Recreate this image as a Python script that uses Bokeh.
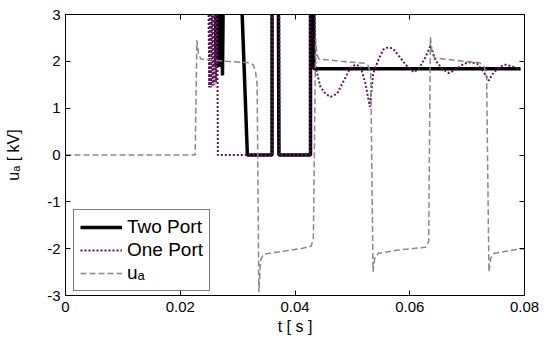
from bokeh.plotting import figure
from bokeh.models import Range1d, FixedTicker, LinearAxis, Legend, LegendItem
from bokeh.embed import file_html
from bokeh.resources import INLINE

# ---- data ----
t_ua = [0.0, 0.0226, 0.0229, 0.0232, 0.0236, 0.0280, 0.0320, 0.0327, 0.0331, 0.0334,
        0.0337, 0.0340, 0.0345, 0.0370, 0.0410, 0.0428, 0.0432, 0.0436, 0.0438, 0.0442,
        0.0480, 0.0520, 0.0527, 0.0532, 0.0536, 0.0539, 0.0545, 0.0580, 0.0628, 0.0633,
        0.0636, 0.0639, 0.0644, 0.0680, 0.0722, 0.0730, 0.0734, 0.0738, 0.0741, 0.0747,
        0.0780, 0.0800]
v_ua = [0.0, 0.0, 2.45, 2.15, 2.05, 2.00, 1.97, 1.93, 1.80, 1.50,
        -2.93, -2.25, -2.12, -2.07, -2.00, -1.95, -1.80, 2.48, 2.15, 2.05,
        2.00, 1.96, 1.92, 1.75, -2.49, -2.20, -2.10, -2.03, -1.97, -1.85,
        2.52, 2.15, 2.07, 2.02, 1.97, 1.88, 1.65, -2.49, -2.20, -2.10,
        -2.03, -2.00]

t_two = [0.02610, 0.02624, 0.02638, 0.02652, 0.02666, 0.02680, 0.02694, 0.02708,
         0.02722, 0.02736, 0.02750, 0.02760, 0.03070, 0.03170, 0.03600, 0.03600,
         0.03710, 0.03720, 0.04270, 0.04270, 0.04325, 0.04330, 0.07930]
v_two = [3.5, 1.88, 3.5, 1.88, 3.5, 1.88, 3.5, 1.88,
         3.5, 1.70, 3.5, 3.5, 3.3, 0.0, 0.0, 3.5,
         3.5, 0.0, 0.0, 3.5, 3.5, 1.84, 1.84]

t_one = [0.02490, 0.02505, 0.02520, 0.02535, 0.02550, 0.02565, 0.02580, 0.02595,
         0.02610, 0.02625, 0.02640, 0.02650, 0.02655, 0.03600, 0.03600, 0.03725,
         0.03730, 0.04262, 0.04262, 0.04340, 0.04357, 0.04444, 0.04531, 0.04619,
         0.04735, 0.04851, 0.04967, 0.05055, 0.05142, 0.05229, 0.05305, 0.05363,
         0.05450, 0.05537, 0.05624, 0.05711, 0.05827, 0.05943, 0.06071, 0.06158,
         0.06275, 0.06362, 0.06449, 0.06565, 0.06681, 0.06797, 0.06943, 0.07059,
         0.07175, 0.07291, 0.07378, 0.07465, 0.07582, 0.07669, 0.07785, 0.07930]
v_one = [3.5, 1.44, 3.5, 1.44, 3.5, 1.48, 3.5, 1.50,
         3.5, 1.55, 3.5, 1.60, 0.0, 0.0, 3.5, 3.5,
         0.0, 0.0, 3.5, 3.5, 1.88, 1.45, 1.31, 1.24,
         1.31, 1.59, 1.86, 1.93, 1.89, 1.52, 1.03, 1.74,
         2.02, 2.25, 2.30, 2.27, 2.09, 1.91, 1.77, 1.84,
         2.09, 2.34, 2.02, 1.84, 1.75, 1.82, 1.95, 1.98,
         1.95, 1.77, 1.59, 1.77, 1.89, 1.93, 1.89, 1.82]

x_ticks = [0, 0.02, 0.04, 0.06, 0.08]
x_tick_labels = ["0", "0.02", "0.04", "0.06", "0.08"]
y_ticks = [-3, -2, -1, 0, 1, 2, 3]
x_label = "t [ s ]"
y_label = "u\u2090 [ kV]"
series_names = ["Two Port", "One Port", "u\u2090"]

FONT = "Liberation Sans"

p = figure(width=545, height=339, output_backend="svg", toolbar_location=None,
           x_range=Range1d(0, 0.08), y_range=Range1d(-3, 3),
           min_border_left=65, min_border_right=21, min_border_top=14, min_border_bottom=44)
p.background_fill_color = "white"
p.border_fill_color = "white"
p.outline_line_color = "black"
p.outline_line_width = 1
p.grid.visible = False

r_two = p.line(t_two, v_two, line_color="black", line_width=3.5)
r_one = p.line(t_one, v_one, line_color="#5a145a", line_width=2, line_dash="2 2")
r_ua = p.line(t_ua, v_ua, line_color="#888888", line_width=1.5, line_dash="6 3")

def style_axis(ax):
    ax.axis_line_color = "black"
    ax.major_tick_in = 5
    ax.major_tick_out = 0
    ax.minor_tick_in = 0
    ax.minor_tick_out = 0
    ax.major_tick_line_color = "black"
    ax.major_label_text_font = FONT
    ax.major_label_text_font_size = "15px"
    ax.major_label_text_color = "black"
    ax.axis_label_text_font = FONT
    ax.axis_label_text_font_size = "16px"
    ax.axis_label_text_font_style = "normal"
    ax.axis_label_text_color = "black"

xa = p.xaxis[0]
style_axis(xa)
xa.ticker = FixedTicker(ticks=x_ticks)
xa.major_label_overrides = {tk: lb for tk, lb in zip(x_ticks, x_tick_labels)}
xa.major_label_standoff = 6
xa.axis_label = x_label
xa.axis_label_standoff = 3

ya = p.yaxis[0]
style_axis(ya)
ya.ticker = FixedTicker(ticks=y_ticks)
ya.major_label_overrides = {tk: str(tk) for tk in y_ticks}
ya.major_label_standoff = 5
ya.axis_label = y_label
ya.axis_label_standoff = 22

top = LinearAxis(ticker=FixedTicker(ticks=x_ticks))
style_axis(top)
top.major_label_overrides = {tk: "" for tk in x_ticks}
top.major_label_standoff = 0
p.add_layout(top, "above")
right = LinearAxis(ticker=FixedTicker(ticks=y_ticks))
style_axis(right)
right.major_label_overrides = {tk: "" for tk in y_ticks}
right.major_label_standoff = 0
p.add_layout(right, "right")

legend = Legend(items=[LegendItem(label=series_names[0], renderers=[r_two]),
                       LegendItem(label=series_names[1], renderers=[r_one]),
                       LegendItem(label=series_names[2], renderers=[r_ua])],
                location=(8, 4))
legend.label_text_font = FONT
legend.label_text_font_size = "19px"
legend.label_text_color = "black"
legend.glyph_width = 42
legend.glyph_height = 20
legend.label_height = 20
legend.spacing = 1
legend.padding = 6
legend.margin = 0
legend.border_line_color = "black"
legend.border_line_width = 1
legend.background_fill_alpha = 1
p.add_layout(legend, "center")

open("out.html", "w").write(file_html(p, INLINE))
